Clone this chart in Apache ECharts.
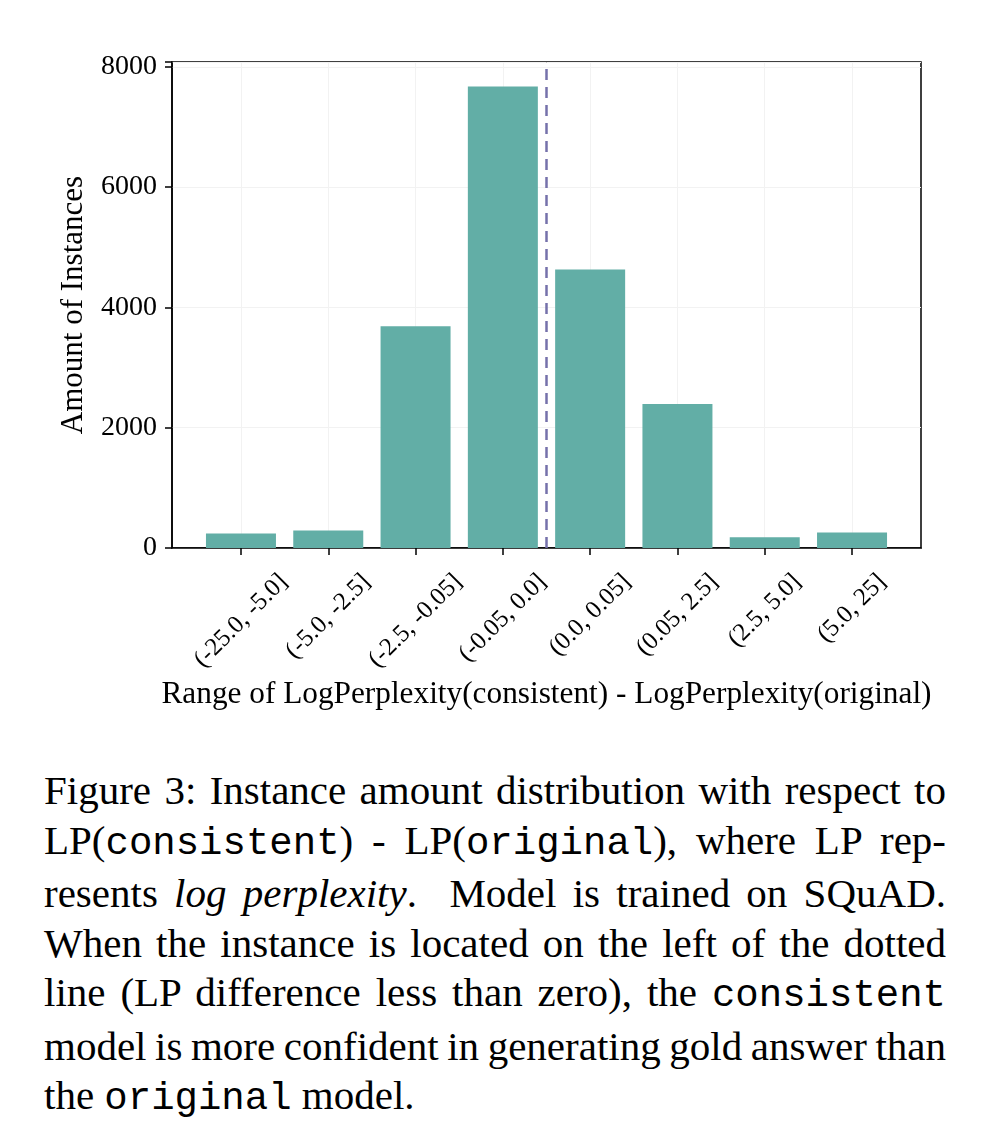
<!DOCTYPE html>
<html>
<head>
<meta charset="utf-8">
<script src="https://cdn.jsdelivr.net/npm/echarts@6/dist/echarts.min.js"></script>
<style>
  html, body { margin: 0; padding: 0; background: #fff; }
  body { width: 986px; height: 1148px; position: relative; overflow: hidden; }
  #chart { position: absolute; left: 0; top: 0; width: 986px; height: 720px; }
  #caption { position: absolute; left: 44px; top: 766px; width: 902px;
    font-family: "Liberation Serif", "Times New Roman", serif; font-size: 41px; line-height: 49.5px; color: #000; }
  .cl { white-space: nowrap; }
  .cl .in { display: inline-block; white-space: pre; }
  .mono { font-family: "Liberation Mono", "Courier New", monospace; font-size: 39px; }
</style>
</head>
<body>
<div id="chart"></div>
<div id="caption">
  <div class="cl"><span class="in">Figure 3: Instance amount distribution with respect to</span></div>
  <div class="cl"><span class="in">LP(<span class="mono">consistent</span>) - LP(<span class="mono">original</span>), where LP rep-</span></div>
  <div class="cl"><span class="in">resents <i>log perplexity</i>.  Model is trained on SQuAD.</span></div>
  <div class="cl"><span class="in">When the instance is located on the left of the dotted</span></div>
  <div class="cl"><span class="in">line (LP difference less than zero), the <span class="mono">consistent</span></span></div>
  <div class="cl"><span class="in">model is more confident in generating gold answer than</span></div>
  <div class="cl last"><span class="in">the <span class="mono">original</span> model.</span></div>
</div>
<script>
// ---- data ----
const categories = ['(-25.0, -5.0]', '(-5.0, -2.5]', '(-2.5, -0.05]', '(-0.05, 0.0]', '(0.0, 0.05]', '(0.05, 2.5]', '(2.5, 5.0]', '(5.0, 25]'];
const counts = [243, 292, 3685, 7674, 4629, 2394, 177, 259];
const yTicks = [0, 2000, 4000, 6000, 8000];
const dividerAt = 3.5;
const xTitle = 'Range of LogPerplexity(consistent) - LogPerplexity(original)';
const yTitle = 'Amount of Instances';

// ---- caption justification ----
document.querySelectorAll('#caption .cl').forEach(el => {
  if (el.classList.contains('last')) return;
  const inner = el.querySelector('.in');
  const w = inner.getBoundingClientRect().width;
  const n = (inner.textContent.match(/ /g) || []).length;
  inner.style.wordSpacing = ((902 - w) / n) + 'px';
});

// ---- x label offsets so labels behave like centred, top-aligned rotated text ----
const labelSize = 25;
const cv = document.createElement('canvas').getContext('2d');
cv.font = labelSize + 'px "Liberation Serif"';
const widths = categories.map(c => cv.measureText(c).width);
const wMax = Math.max(...widths);
const rich = {};
categories.forEach((c, i) => {
  const p = 0.5 * (wMax - widths[i]);
  rich['r' + i] = { fontFamily: 'Liberation Serif', fontSize: labelSize, color: '#000', padding: [0, 0, p, p] };
});

const catIdx = categories.map((c, i) => i);
const chart = echarts.init(document.getElementById('chart'), null, { renderer: 'canvas' });
chart.setOption({
  backgroundColor: '#fff',
  animation: false,
  grid: { left: 172, right: 65, top: 62, bottom: 172, show: true, borderColor: '#000', borderWidth: 1.5, backgroundColor: 'transparent' },
  xAxis: {
    type: 'value', min: -0.79, max: 7.79,
    name: xTitle, nameLocation: 'middle', nameGap: 130,
    nameTextStyle: { fontFamily: 'Liberation Serif', fontSize: 31.3, color: '#000' },
    axisLine: { show: true, onZero: false, lineStyle: { color: '#000', width: 1.5 } },
    axisTick: { show: true, customValues: catIdx, length: 7, lineStyle: { color: '#000', width: 1.5 } },
    axisLabel: {
      customValues: catIdx, rotate: 45, align: 'center', verticalAlign: 'middle', margin: 73,
      formatter: (v) => { const i = Math.round(v); return '{r' + i + '|' + categories[i] + '}'; },
      rich: rich
    },
    splitLine: { show: true, lineStyle: { color: '#f2f2f2', width: 1 } }
  },
  yAxis: {
    type: 'value', min: 0, max: 8080, interval: 2000,
    name: yTitle, nameLocation: 'middle', nameGap: 83,
    nameTextStyle: { fontFamily: 'Liberation Serif', fontSize: 31, color: '#000' },
    axisLine: { show: true, onZero: false, lineStyle: { color: '#000', width: 1.5 } },
    axisTick: { show: true, length: 7, lineStyle: { color: '#000', width: 1.5 } },
    axisLabel: { fontFamily: 'Liberation Serif', fontSize: 28, color: '#000', margin: 15,
      formatter: (v) => yTicks.includes(v) ? String(v) : '' },
    splitLine: { show: true, lineStyle: { color: '#f2f2f2', width: 1 } }
  },
  series: [{
    type: 'bar',
    data: counts.map((v, i) => [i, v]),
    barWidth: 70,
    itemStyle: { color: '#62AEA6' },
    markLine: {
      silent: true, symbol: ['none', 'none'],
      label: { show: false },
      lineStyle: { color: '#7571AB', width: 2.5, type: [11, 7] },
      data: [{ xAxis: dividerAt }]
    }
  }]
});
</script>
</body>
</html>
